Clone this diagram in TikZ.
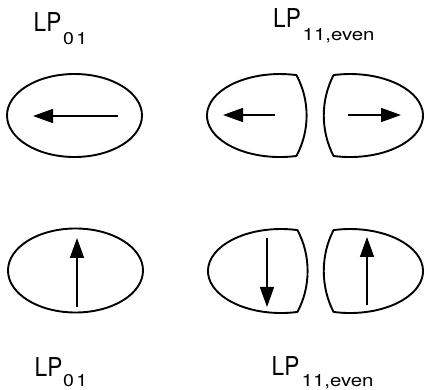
\documentclass[tikz,border=0pt]{standalone}
\usepackage{fontspec}
\setmainfont{TeX Gyre Heros}
\usetikzlibrary{arrows.meta}
\tikzset{
  shapeline/.style={line width=1.9pt, line join=round},
  vec/.style={line width=1.6pt, -{Triangle[length=20pt,width=14pt]}},
  lpbig/.style={inner sep=0pt, anchor=base west, font=\fontsize{26}{26}\selectfont},
  lpsub/.style={inner sep=0pt, anchor=base west, font=\fontsize{17}{17}\selectfont}
}
\newcommand{\lpmain}{\scalebox{0.87}[1]{LP}}
\newcommand{\lpzo}{\scalebox{1.15}[1]{0\hspace{2pt}1}}
\newcommand{\lpev}{\scalebox{1.2}[1]{11,even}}
\begin{document}
\begin{tikzpicture}[x=1pt,y=-1pt]
\useasboundingbox (0,0) rectangle (424,390);
% labels
\node[lpbig] (t1) at (33.5,32) {\lpmain};
\node[lpsub] (t1s) at (63,45) {\lpzo};
\node[lpbig] (t2) at (273,28) {\lpmain};
\node[lpsub] (t2s) at (302.5,40.5) {\lpev};
\node[lpbig] (b1) at (34.5,377) {\lpmain};
\node[lpsub] (b1s) at (63,387) {\lpzo};
\node[lpbig] (b2) at (271.5,376) {\lpmain};
\node[lpsub] (b2s) at (301.5,387) {\lpev};
% LP01 ellipses
\draw[shapeline] (74.5,115.5) ellipse [x radius=67.5pt, y radius=41.5pt];
\draw[shapeline] (75.5,270.5) ellipse [x radius=67.5pt, y radius=42pt];
% LP11 lobes, top row
\draw[shapeline] (296.4,75.1) arc[start angle=77, end angle=283, x radius=73pt, y radius=41.5pt]
  .. controls (310,131) and (310,100) .. cycle;
\draw[shapeline] (333.6,75.1) arc[start angle=103, end angle=-103, x radius=73pt, y radius=41.5pt]
  .. controls (320.5,131) and (320.5,100) .. cycle;
% LP11 lobes, bottom row
\draw[shapeline] (297.4,230.1) arc[start angle=77, end angle=283, x radius=73pt, y radius=42pt]
  .. controls (311,287) and (311,255) .. cycle;
\draw[shapeline] (333.6,230.1) arc[start angle=103, end angle=-103, x radius=73pt, y radius=42pt]
  .. controls (320.5,287) and (320.5,255) .. cycle;
% arrow end points
\coordinate (a1s) at (118,116); \coordinate (a1e) at (33,116);
\coordinate (a2s) at (275,115); \coordinate (a2e) at (223,115);
\coordinate (a3s) at (348,115); \coordinate (a3e) at (401,115);
\coordinate (a4s) at (77,307);  \coordinate (a4e) at (77,238);
\coordinate (a5s) at (267,238); \coordinate (a5e) at (267,307);
\coordinate (a6s) at (367,305); \coordinate (a6e) at (367,237);
\draw[vec] (a1s) -- (a1e);
\draw[vec] (a2s) -- (a2e);
\draw[vec] (a3s) -- (a3e);
\draw[vec] (a4s) -- (a4e);
\draw[vec] (a5s) -- (a5e);
\draw[vec] (a6s) -- (a6e);
\end{tikzpicture}
\end{document}
